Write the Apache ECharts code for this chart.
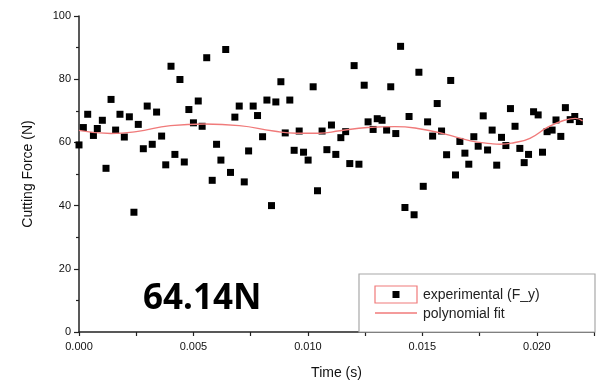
<!DOCTYPE html>
<html>
<head>
<meta charset="utf-8">
<script src="https://cdn.jsdelivr.net/npm/echarts@6/dist/echarts.min.js"></script>
<style>html,body{margin:0;padding:0;background:#fff}#c{width:603px;height:385px}</style>
</head>
<body>
<div id="c"></div>
<script>
const timeS = [0.0000,0.00019,0.00038,0.00063,0.0008,0.00102,0.00118,0.0014,0.0016,0.00179,
0.00198,0.0022,0.0024,0.00259,0.00281,0.00298,0.0032,0.00339,0.00361,0.00379,
0.00402,0.00419,0.00441,0.0046,0.0048,0.005,0.00521,0.00538,0.00558,0.00582,
0.00601,0.0062,0.00641,0.00662,0.00681,0.007,0.00722,0.00741,0.00761,0.0078,
0.00802,0.00821,0.00841,0.0086,0.00882,0.00901,0.00921,0.0094,0.00962,0.00981,
0.01001,0.01023,0.01042,0.01062,0.01083,0.01103,0.01122,0.01144,0.01165,0.01183,
0.01202,0.01223,0.01246,0.01263,0.01285,0.01303,0.01324,0.01344,0.01362,0.01384,
0.01405,0.01424,0.01442,0.01464,0.01485,0.01504,0.01523,0.01545,0.01565,0.01584,
0.01606,0.01624,0.01645,0.01664,0.01686,0.01703,0.01725,0.01744,0.01766,0.01785,
0.01805,0.01825,0.01846,0.01865,0.01885,0.01905,0.01926,0.01945,0.01964,0.01986,
0.02006,0.02025,0.02045,0.02067,0.02084,0.02105,0.02125,0.02146,0.02166,0.02186];
const forceN = [59.2,64.7,68.9,62.2,64.4,67.0,51.8,73.6,63.9,68.9,
61.7,68.1,37.9,65.7,58.0,71.5,59.4,69.6,62.0,52.9,
84.1,56.2,79.9,53.8,70.4,66.2,73.1,65.1,86.8,48.0,
59.4,54.4,89.4,50.5,68.0,71.5,47.5,57.3,71.5,68.5,
61.8,73.4,40.0,72.8,79.2,63.0,73.4,57.5,63.6,56.9,
54.4,77.6,44.7,63.6,57.7,65.5,56.2,61.5,63.4,53.3,
84.3,53.1,78.1,66.5,64.1,67.5,67.0,63.9,77.6,62.8,
90.4,39.4,68.2,37.1,82.2,46.1,66.5,62.0,72.3,63.6,
56.1,79.6,49.7,60.3,56.6,53.1,61.8,58.8,68.4,57.6,
63.9,52.8,61.6,59.0,70.7,65.1,58.1,53.6,56.2,69.7,
68.7,56.9,63.4,63.9,67.1,61.9,71.0,67.2,68.2,66.6];
const fitT = [0,0.0014,0.0025,0.004,0.0055,0.007,0.0085,0.0095,0.0105,0.0114,0.0126,0.0138,0.0148,0.016,0.0171,0.018,0.0184,0.019,0.0197,0.0205,0.0212,0.0217,0.022];
const fitF = [63.8,62.8,63.4,65.3,65.8,65.3,63.6,62.9,62.9,63.7,64.7,65.0,64.4,62.6,60.5,59.6,59.4,59.9,61.3,64.9,67.0,67.6,66.8];
const seriesNames = ['experimental (F_y)', 'polynomial fit'];
const annotation = '64.14N';
const xTitle = 'Time (s)';
const yTitle = 'Cutting Force (N)';

const chart = echarts.init(document.getElementById('c'), null, {renderer: 'canvas'});
const font = 'Liberation Sans, Arial, sans-serif';
const axisCol = '#222';
chart.setOption({
  animation: false,
  backgroundColor: '#fff',
  grid: {left: 79, right: 9, top: 16, bottom: 50},
  xAxis: {
    type: 'value', min: 0, max: 0.0225, interval: 0.0025,
    name: xTitle, nameLocation: 'middle', nameGap: 34,
    nameTextStyle: {fontFamily: font, fontSize: 14, color: '#111'},
    axisLine: {show: true, onZero: false, lineStyle: {color: axisCol, width: 1.5}},
    axisTick: {show: true, length: 4, lineStyle: {color: axisCol, width: 1.2}},
    splitLine: {show: false},
    axisLabel: {
      fontFamily: font, fontSize: 11, color: '#111', margin: 9,
      formatter: function (v) {
        const k = v / 0.005;
        return Math.abs(k - Math.round(k)) < 1e-6 ? v.toFixed(3) : '';
      }
    }
  },
  yAxis: {
    type: 'value', min: 0, max: 100, interval: 20,
    name: yTitle, nameLocation: 'middle', nameGap: 44,
    nameTextStyle: {fontFamily: font, fontSize: 14, color: '#111'},
    axisLine: {show: true, onZero: false, lineStyle: {color: axisCol, width: 1.5}},
    axisTick: {show: true, length: 5, lineStyle: {color: axisCol, width: 1.2}},
    minorTick: {show: true, splitNumber: 2, length: 3, lineStyle: {color: axisCol, width: 1.2}},
    splitLine: {show: false},
    axisLabel: {fontFamily: font, fontSize: 11, color: '#111', margin: 8}
  },
  series: [
    {
      name: seriesNames[0], type: 'scatter', symbol: 'rect', symbolSize: 7,
      itemStyle: {color: '#000', opacity: 1},
      data: timeS.map((t, i) => [t, forceN[i]]), z: 3
    },
    {
      name: seriesNames[1], type: 'line', smooth: 0.5, symbol: 'none',
      lineStyle: {color: '#f07a7a', width: 1.4},
      data: fitT.map((t, i) => [t, fitF[i]]), z: 4
    }
  ],
  graphic: [
    {type: 'text', left: 143, top: 282, z: 10,
      style: {text: annotation, font: 'bold 35px "Noto Sans", sans-serif', fill: '#000'}},
    {type: 'rect', shape: {x: 359, y: 274, width: 236, height: 58}, z: 10,
      style: {fill: '#fff', stroke: '#a8a8a8', lineWidth: 1.2}},
    {type: 'rect', shape: {x: 375, y: 286, width: 42, height: 17}, z: 11,
      style: {fill: 'none', stroke: '#f07a7a', lineWidth: 1.2}},
    {type: 'rect', shape: {x: 392.5, y: 291, width: 7, height: 7}, z: 11,
      style: {fill: '#000'}},
    {type: 'text', x: 423, y: 295, z: 11,
      style: {text: seriesNames[0], font: '14px Liberation Sans, Arial, sans-serif', fill: '#222', textVerticalAlign: 'middle'}},
    {type: 'line', shape: {x1: 375, y1: 313, x2: 417, y2: 313}, z: 11,
      style: {stroke: '#f07a7a', lineWidth: 1.4}},
    {type: 'text', x: 423, y: 314, z: 11,
      style: {text: seriesNames[1], font: '14px Liberation Sans, Arial, sans-serif', fill: '#222', textVerticalAlign: 'middle'}}
  ]
});
</script>
</body>
</html>
